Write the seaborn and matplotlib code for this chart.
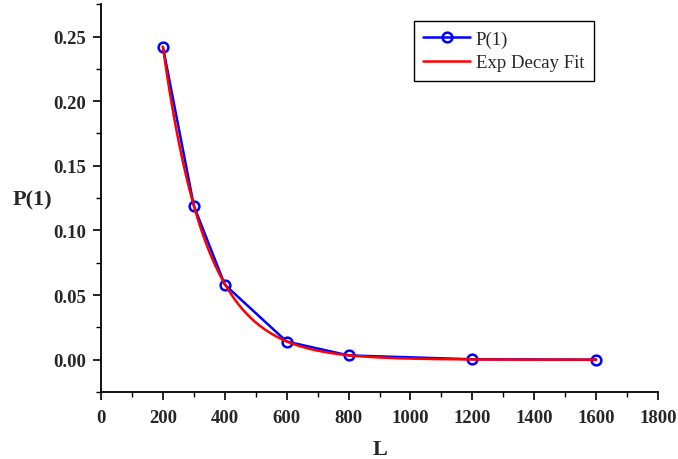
import numpy as np
import pandas as pd
import matplotlib
matplotlib.use("Agg")
import matplotlib.pyplot as plt
from matplotlib.ticker import MultipleLocator
import seaborn as sns

# Measured probability P(1) against system size L
L_values = [200, 300, 400, 600, 800, 1200, 1600]
p1_values = [0.242, 0.119, 0.058, 0.014, 0.0033, 0.0003, 0.0]

# Exponential decay fit parameters: y = y0 + A * exp(-(x - x0) / t1)
fit_y0 = 0.0
fit_A = 0.242
fit_x0 = 200.0
fit_t1 = 141.0

x_ticks = [0, 200, 400, 600, 800, 1000, 1200, 1400, 1600, 1800]
y_ticks = [0.00, 0.05, 0.10, 0.15, 0.20, 0.25]

sns.set_style("ticks")
plt.rcParams["font.family"] = ["Liberation Serif", "DejaVu Serif"]

data = pd.DataFrame({"L": L_values, "P1": p1_values})
fit_x = np.linspace(L_values[0], L_values[-1], 400)
fit = pd.DataFrame({"L": fit_x,
                    "P1": fit_y0 + fit_A * np.exp(-(fit_x - fit_x0) / fit_t1)})

fig = plt.figure(figsize=(6.78, 4.60), dpi=100)
ax = fig.add_axes([0.149, 0.1457, 0.8215, 0.843])

sns.lineplot(data=data, x="L", y="P1", ax=ax, color="#0000ff", linewidth=1.8,
             marker="o", markersize=7, markerfacecolor="none",
             markeredgecolor="#0000ff", markeredgewidth=1.8, label="P(1)")
sns.lineplot(data=fit, x="L", y="P1", ax=ax, color="#ff0000", linewidth=1.8,
             label="Exp Decay Fit")

ax.set_xlim(0, 1800)
ax.set_ylim(-0.025, 0.275)
ax.set_xticks(x_ticks)
ax.set_yticks(y_ticks)
ax.set_xticklabels([str(v) for v in x_ticks])
ax.set_yticklabels([f"{v:.2f}" for v in y_ticks])
ax.xaxis.set_minor_locator(MultipleLocator(100))
ax.yaxis.set_minor_locator(MultipleLocator(0.025))

for lab in ax.get_xticklabels() + ax.get_yticklabels():
    lab.set_fontweight("bold")
    lab.set_fontsize(13.5)

ax.tick_params(which="major", direction="out", length=6, width=1.2, color="black")
ax.tick_params(which="minor", direction="out", length=3.5, width=1.0, color="black")
ax.tick_params(axis="y", pad=5)
ax.tick_params(axis="x", pad=6)

for side in ("top", "right"):
    ax.spines[side].set_visible(False)
for side in ("left", "bottom"):
    ax.spines[side].set_linewidth(1.3)
    ax.spines[side].set_color("black")

ax.set_xlabel("L", fontsize=16, fontweight="bold", va="center")
ax.xaxis.set_label_coords((380 - 101) / 557, (393 - 450) / 388)
ax.set_ylabel("P(1)", fontsize=16, fontweight="bold", rotation=0,
              ha="center", va="center")
ax.yaxis.set_label_coords((32 - 101) / 557, (393 - 200) / 388)

leg = ax.legend(loc="upper left", bbox_to_anchor=(414 / 678, 1 - 22 / 460),
                bbox_transform=fig.transFigure, fontsize=13.5, frameon=True,
                fancybox=False, edgecolor="black", framealpha=1,
                handlelength=2.5, borderpad=0.5, labelspacing=0.35,
                handletextpad=0.3, borderaxespad=0)
leg.get_frame().set_linewidth(1.0)

fig.savefig("out.png", dpi=100)
